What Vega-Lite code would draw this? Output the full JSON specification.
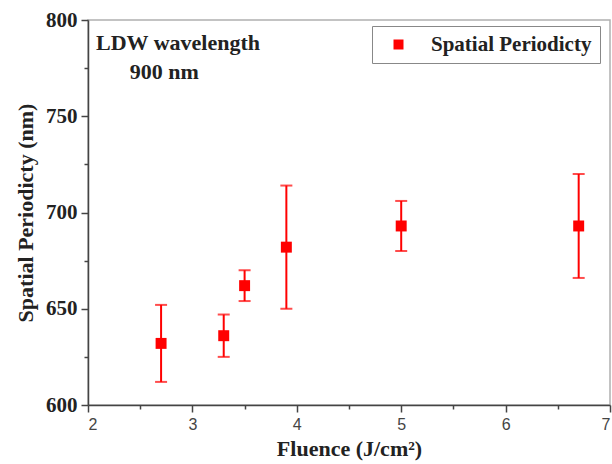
{
  "$schema": "https://vega.github.io/schema/vega-lite/v6.json",
  "width": 522,
  "height": 385,
  "autosize": {"type": "none"},
  "padding": {"left": 88, "top": 20, "right": 2, "bottom": 59},
  "background": "white",
  "config": {
    "view": {"stroke": "#b0b0b0", "strokeWidth": 1.5},
    "axis": {"grid": false, "domainColor": "#444", "domainWidth": 1.5, "tickColor": "#444", "tickWidth": 1.5}
  },
  "datasets": {
    "pts": [
      {"fluence": 2.7, "period": 632, "lo": 612, "hi": 652, "series": "Spatial Periodicty"},
      {"fluence": 3.3, "period": 636, "lo": 625, "hi": 647, "series": "Spatial Periodicty"},
      {"fluence": 3.5, "period": 662, "lo": 654, "hi": 670, "series": "Spatial Periodicty"},
      {"fluence": 3.9, "period": 682, "lo": 650, "hi": 714, "series": "Spatial Periodicty"},
      {"fluence": 5.0, "period": 693, "lo": 680, "hi": 706, "series": "Spatial Periodicty"},
      {"fluence": 6.7, "period": 693, "lo": 666, "hi": 720, "series": "Spatial Periodicty"}
    ],
    "notes": [
      {"fx": 2.077, "py": 788, "label": "LDW wavelength"},
      {"fx": 2.40, "py": 773, "label": "900 nm"}
    ]
  },
  "layer": [
    {
      "data": {"name": "pts"},
      "mark": {"type": "errorbar", "color": "red", "thickness": 2, "ticks": {"size": 12, "thickness": 2, "color": "red"}},
      "encoding": {
        "x": {"field": "fluence", "type": "quantitative",
          "scale": {"domain": [2, 7], "nice": false, "zero": false},
          "axis": {
            "values": [2, 2.5, 3, 3.5, 4, 4.5, 5, 5.5, 6, 6.5, 7],
            "labelExpr": "datum.value % 1 === 0 ? format(datum.value, 'd') : ''",
            "tickSize": {"condition": {"test": "datum.value % 1 === 0", "value": 7}, "value": 4},
            "labelFont": "Liberation Sans", "labelFontSize": 16, "labelColor": "#444", "labelPadding": 4,
            "title": "Fluence (J/cm²)", "titleFont": "Liberation Serif", "titleFontSize": 22, "titleFontWeight": "bold", "titleColor": "#222", "titlePadding": 6
          }
        },
        "y": {"field": "lo", "type": "quantitative",
          "scale": {"domain": [600, 800], "nice": false, "zero": false},
          "axis": {
            "values": [600, 625, 650, 675, 700, 725, 750, 775, 800],
            "labelExpr": "datum.value % 50 === 0 ? datum.label : ''",
            "tickSize": {"condition": {"test": "datum.value % 50 === 0", "value": 7}, "value": 4},
            "labelFont": "Liberation Serif", "labelFontSize": 21, "labelFontWeight": "bold", "labelColor": "#222", "labelPadding": 4,
            "title": "Spatial Periodicty (nm)", "titleFont": "Liberation Serif", "titleFontSize": 22, "titleFontWeight": "bold", "titleColor": "#222", "titlePadding": 8
          }
        },
        "y2": {"field": "hi"}
      }
    },
    {
      "data": {"name": "pts"},
      "mark": {"type": "square", "size": 120, "filled": true, "opacity": 1},
      "encoding": {
        "x": {"field": "fluence", "type": "quantitative"},
        "y": {"field": "period", "type": "quantitative"},
        "color": {"field": "series", "type": "nominal",
          "scale": {"range": ["red"]},
          "legend": {
            "title": null, "orient": "none", "legendX": 284, "legendY": 6,
            "strokeColor": "#888", "padding": 8, "symbolType": "square", "symbolSize": 100,
            "symbolOffset": 8, "labelOffset": 22,
            "labelFont": "Liberation Serif", "labelFontSize": 21, "labelFontWeight": "bold", "labelColor": "#222", "labelLimit": 300
          }
        }
      }
    },
    {
      "data": {"name": "notes"},
      "mark": {"type": "text", "align": "left", "baseline": "middle", "font": "Liberation Serif", "fontSize": 22, "fontWeight": "bold", "color": "#222"},
      "encoding": {
        "x": {"field": "fx", "type": "quantitative"},
        "y": {"field": "py", "type": "quantitative"},
        "text": {"field": "label"}
      }
    }
  ]
}
